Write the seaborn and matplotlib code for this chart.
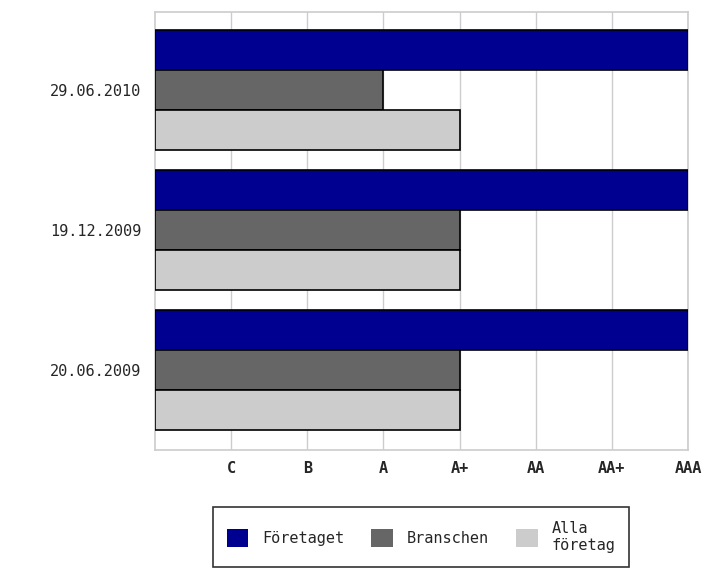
import pandas as pd
import numpy as np
import seaborn as sns
import matplotlib
matplotlib.use("Agg")
from matplotlib import pyplot as plt

# rating scale and data
ratings = ['C', 'B', 'A', 'A+', 'AA', 'AA+', 'AAA']
dates = ['29.06.2010', '19.12.2009', '20.06.2009']
series = ['Företaget', 'Branschen', 'Alla\nföretag']
foretaget = ['AAA', 'AAA', 'AAA']
branschen = ['A', 'A+', 'A+']
alla = ['A+', 'A+', 'A+']
colors = ['#000090', '#666666', '#cccccc']

rank = {r: i + 1 for i, r in enumerate(ratings)}
rows = []
for s, vals in zip(series, [foretaget, branschen, alla]):
    for d, v in zip(dates, vals):
        rows.append({'date': d, 'serie': s, 'value': rank[v]})
df = pd.DataFrame(rows)

sns.set_style('white')
plt.rcParams['font.family'] = ['DejaVu Sans Mono', 'DejaVu Sans']

fig = plt.figure(figsize=(7.24, 5.71), dpi=100)
ax = fig.add_axes([155 / 724, 121 / 571, 533 / 724, 438 / 571])

sns.barplot(data=df, y='date', x='value', hue='serie', order=dates,
            hue_order=series, palette=colors, saturation=1, orient='h',
            width=0.857, edgecolor='black', linewidth=1.2, ax=ax,
            legend=True, zorder=3)

ax.set_xlim(0, 7)
ax.set_ylim(2.57, -0.557)
ax.set_xticks(range(1, 8))
ax.set_xticklabels(ratings, fontsize=11, fontweight='bold')
ax.tick_params(axis='x', length=0, pad=8)
ax.tick_params(axis='y', length=0, pad=10, labelsize=11)
ax.xaxis.grid(True, color='#cccccc', linewidth=1, zorder=0)
ax.set_axisbelow(True)
for sp in ax.spines.values():
    sp.set_color('#cccccc')
    sp.set_linewidth(1.2)
ax.set_xlabel('')
ax.set_ylabel('')

handles, labels = ax.get_legend_handles_labels()
ax.get_legend().remove()
leg = fig.legend(handles, labels, loc='upper center',
                 bbox_to_anchor=(421 / 724, 1 - 507 / 571), ncol=3,
                 frameon=True, fancybox=False, edgecolor='black',
                 fontsize=11, handlelength=1.4, handleheight=1.4,
                 columnspacing=1.8, handletextpad=0.9, borderpad=0.9,
                 borderaxespad=0)
leg.get_frame().set_linewidth(1.2)
for h in leg.legend_handles:
    h.set_edgecolor('none')

fig.savefig('out.png', dpi=100)
